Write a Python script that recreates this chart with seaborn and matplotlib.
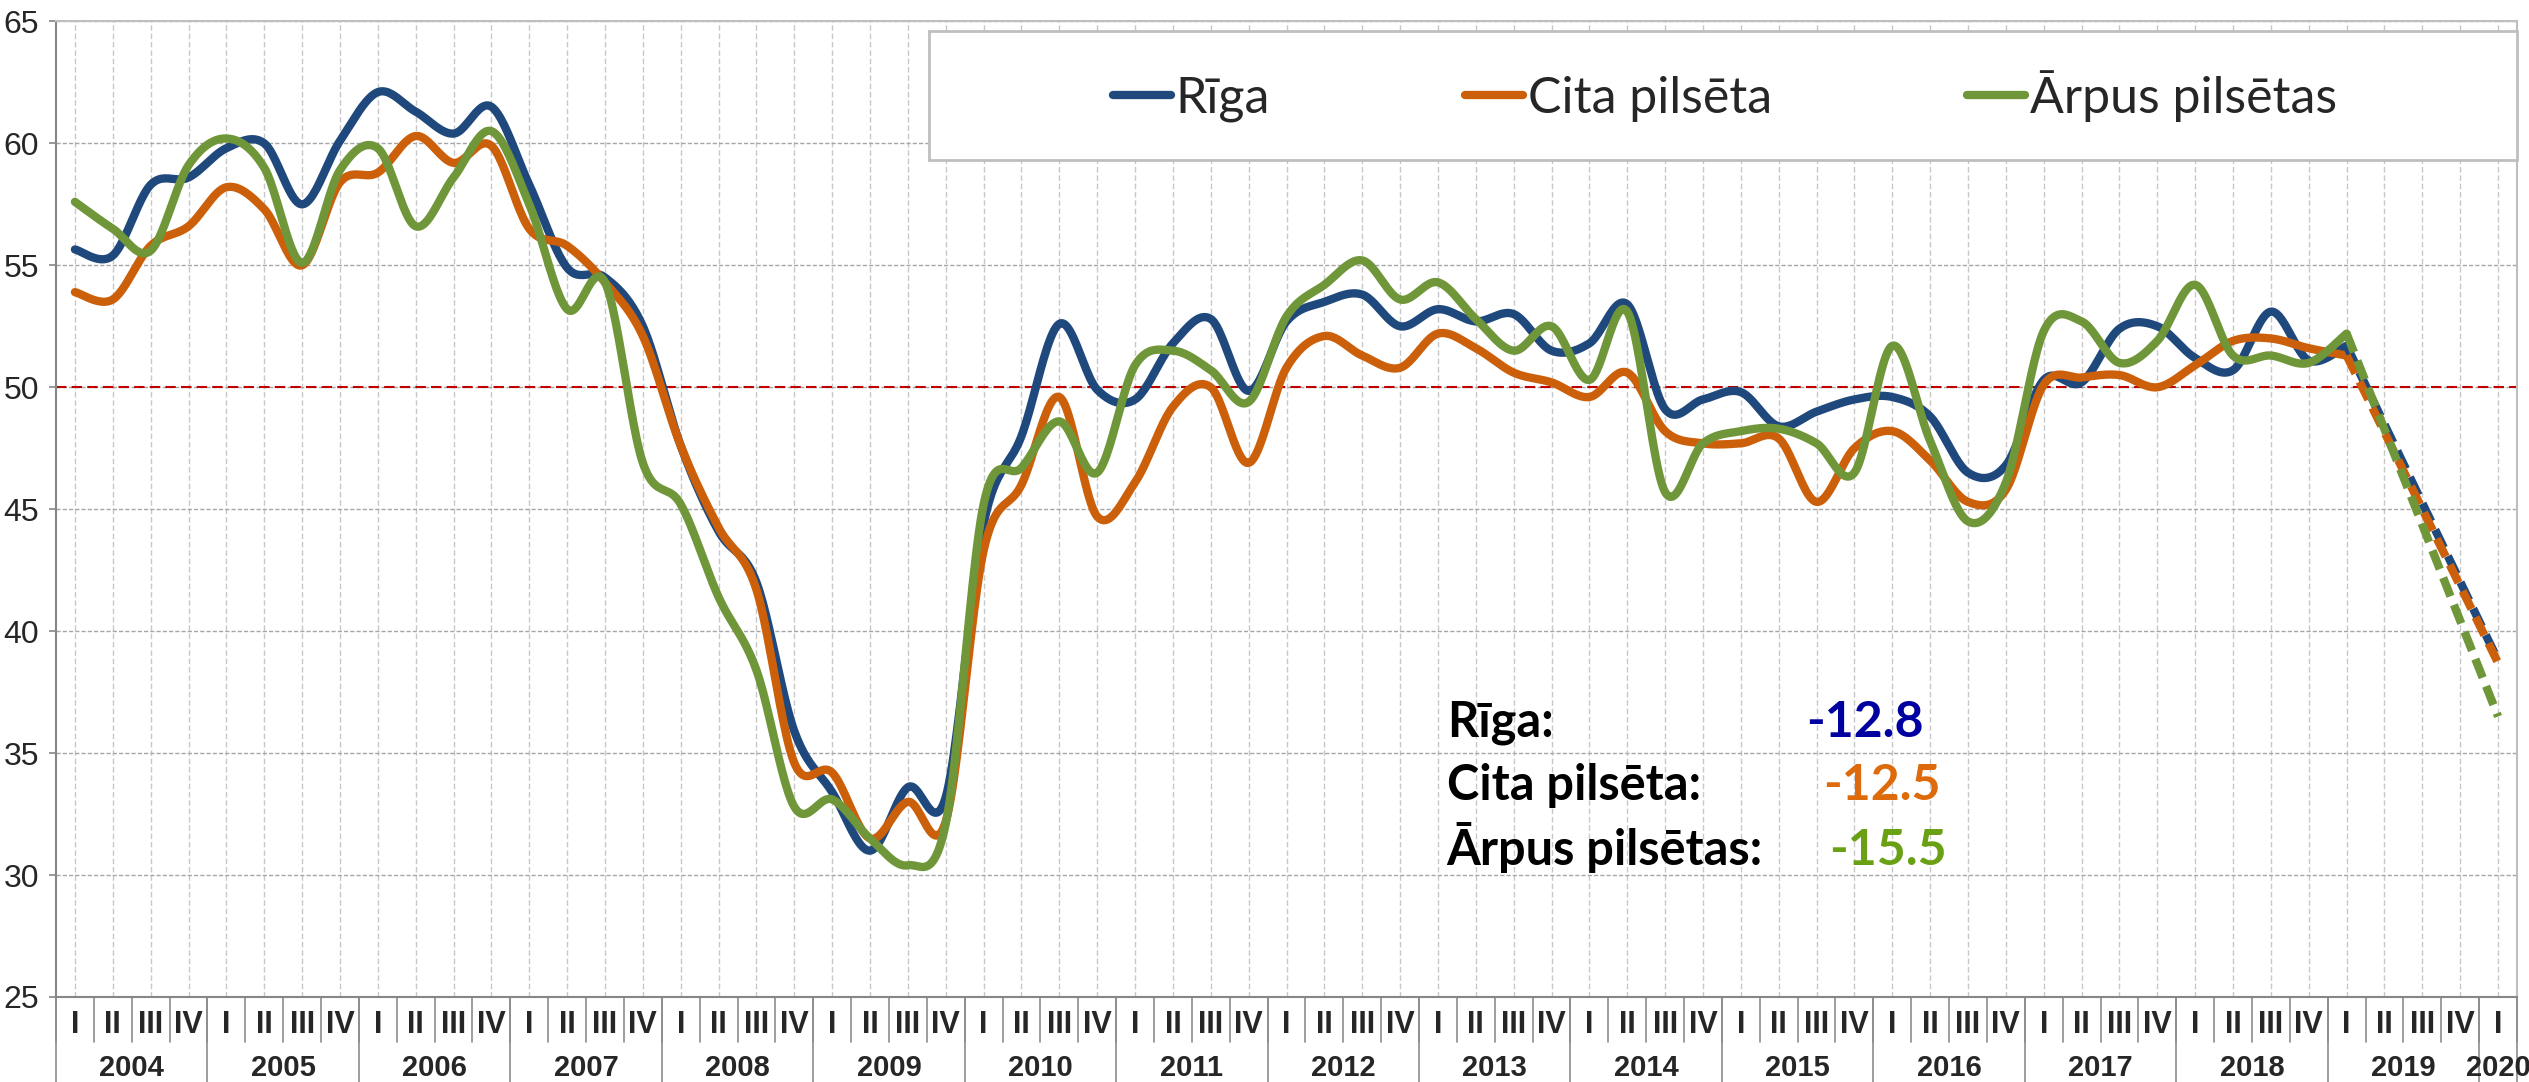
import numpy as np
import pandas as pd
import matplotlib
matplotlib.use("Agg")
import matplotlib.pyplot as plt
import seaborn as sns
from matplotlib.lines import Line2D
from matplotlib.patches import Rectangle

# Quarterly index, 2004 I .. 2019 I (solid part of the curves)
riga = [55.65, 55.4, 58.3, 58.6, 59.8, 60.0, 57.5, 60.1, 62.1, 61.3,
        60.4, 61.5, 58.3, 54.9, 54.5, 52.5, 47.6, 44.1, 42.0, 35.9,
        33.4, 31.0, 33.6, 33.2, 44.4, 48.0, 52.6, 49.9, 49.5, 51.8,
        52.8, 49.85, 52.7, 53.5, 53.8, 52.5, 53.2, 52.7, 53.0, 51.5,
        51.8, 53.4, 49.1, 49.5, 49.8, 48.4, 49.0, 49.5, 49.6, 48.8,
        46.5, 46.8, 50.3, 50.2, 52.4, 52.5, 51.2, 50.7, 53.1, 51.1,
        51.7]
cita = [53.9, 53.6, 55.8, 56.6, 58.2, 57.3, 55.0, 58.4, 58.8, 60.3,
        59.2, 59.9, 56.5, 55.8, 54.3, 52.1, 47.6, 44.25, 41.7, 34.6,
        34.2, 31.5, 33.0, 32.2, 43.3, 46.0, 49.6, 44.7, 46.1, 49.2,
        50.0, 46.9, 50.8, 52.1, 51.3, 50.8, 52.2, 51.6, 50.6, 50.2,
        49.6, 50.6, 48.2, 47.7, 47.7, 47.9, 45.3, 47.5, 48.2, 47.0,
        45.3, 45.8, 50.1, 50.4, 50.5, 50.0, 50.9, 51.9, 52.0, 51.6,
        51.3]
arpus = [57.6, 56.5, 55.6, 59.1, 60.2, 59.0, 55.1, 58.9, 59.8, 56.6,
         58.6, 60.5, 57.5, 53.2, 54.3, 46.9, 45.2, 41.4, 38.4, 32.8,
         33.1, 31.5, 30.4, 32.1, 45.2, 46.7, 48.6, 46.5, 50.9, 51.5,
         50.7, 49.4, 52.9, 54.2, 55.2, 53.6, 54.3, 52.8, 51.5, 52.5,
         50.3, 53.1, 45.7, 47.7, 48.2, 48.3, 47.7, 46.5, 51.7, 47.8,
         44.5, 46.1, 52.3, 52.7, 51.0, 51.9, 54.2, 51.3, 51.3, 51.0,
         52.2]
# 2020 I values (dashed continuation from 2019 I)
latest = [38.8, 38.7, 36.5]
changes = [-12.8, -12.5, -15.5]

series_names = ["Rīga", "Cita pilsēta", "Ārpus pilsētas"]
label_names = ["Rīga:", "Cita pilsēta:", "Ārpus pilsētas:"]
line_colors = ["#1F497D", "#CC600A", "#70963A"]
change_colors = ["#0000A0", "#DD6B0B", "#6AA014"]

years = ["2004", "2005", "2006", "2007", "2008", "2009", "2010", "2011", "2012",
         "2013", "2014", "2015", "2016", "2017", "2018", "2019", "2020"]
quarters = ["I", "II", "III", "IV"]


def smooth(xs, ys, n=24):
    """Excel-like smoothed line (Catmull-Rom style Bezier segments)."""
    pts = np.column_stack([xs, ys]).astype(float)
    padded = np.vstack([pts[0], pts, pts[-1]])
    t = np.linspace(0, 1, n, endpoint=False)[:, None]
    out = []
    for k in range(len(pts) - 1):
        p0, p1, p2, p3 = padded[k:k + 4]
        c1 = p1 + (p2 - p0) / 6
        c2 = p2 - (p3 - p1) / 6
        out.append((1 - t) ** 3 * p1 + 3 * (1 - t) ** 2 * t * c1
                   + 3 * (1 - t) * t ** 2 * c2 + t ** 3 * p2)
    out.append(pts[-1:])
    return np.vstack(out)


# category labels
cat_quarter = []
cat_year = []
for y in years[:-1]:
    for q in quarters:
        cat_quarter.append(q)
        cat_year.append(y)
cat_quarter.append("I")
cat_year.append(years[-1])
n_cat = len(cat_quarter)

sns.set_theme(style="white")
plt.rcParams["font.family"] = ["Liberation Sans Narrow", "Liberation Sans", "DejaVu Sans"]
label_font = ["Lato", "DejaVu Sans"]

W, H = 2529, 1082
fig = plt.figure(figsize=(W / 100, H / 100), dpi=100)
ax = fig.add_axes([56 / W, 1 - 997 / H, (2517 - 56) / W, (997 - 21.4) / H])

frames = []
for name, vals in zip(series_names, [riga, cita, arpus]):
    xy = smooth(np.arange(len(vals)), vals)
    frames.append(pd.DataFrame({"x": xy[:, 0], "y": xy[:, 1], "series": name}))
df = pd.concat(frames, ignore_index=True)

sns.lineplot(data=df, x="x", y="y", hue="series", palette=line_colors,
             hue_order=series_names, sort=False, estimator=None,
             linewidth=6, legend=False, ax=ax, zorder=3)

# dashed continuation to 2020 I
for vals, last, col in zip([riga, cita, arpus], latest, line_colors):
    ax.plot([len(vals) - 1, n_cat - 1], [vals[-1], last], color=col, lw=6,
            ls=(0, (2.4, 1.1)), zorder=3)

ax.axhline(50, color="#C00000", lw=1.5, ls=(0, (5, 2.5)), zorder=2)

ax.set_xlim(-0.5, n_cat - 0.5)
ax.set_ylim(25, 65)
ax.set_yticks(range(25, 66, 5))
ax.set_xticks(range(n_cat))
ax.tick_params(axis="x", length=0, labelbottom=False)
ax.tick_params(axis="y", length=5, width=1.2, color="#868686", labelsize=23,
               pad=7, left=True)
ax.set_xlabel("")
ax.set_ylabel("")
ax.yaxis.grid(True, color="#A6A6A6", lw=1.0, ls=(0, (3, 1.5)))
ax.xaxis.grid(True, color="#C8C8C8", lw=1.0, ls=(0, (4, 2)))
ax.set_axisbelow(True)
for side in ["left", "bottom"]:
    ax.spines[side].set_color("#868686")
    ax.spines[side].set_linewidth(1.5)
for side in ["top", "right"]:
    ax.spines[side].set_color("#BFBFBF")
    ax.spines[side].set_linewidth(1.5)

# two-level category axis
tr = ax.get_xaxis_transform()
q_low = -(1042 - 997) / (997 - 21.4)
y_low = -(1082 - 997) / (997 - 21.4)
for b in np.arange(-0.5, n_cat):
    ax.plot([b, b], [0, q_low], color="#8C8C8C", lw=1.2, transform=tr, clip_on=False)
for i, lab in enumerate(cat_quarter):
    ax.text(i, -0.0287, lab, transform=tr, ha="center", va="center",
            fontsize=22, fontweight="bold")
bounds = [-0.5]
for y in years:
    idx = [i for i, cy in enumerate(cat_year) if cy == y]
    ax.text(np.mean(idx), -0.0728, y, transform=tr, ha="center", va="center",
            fontsize=21, fontweight="bold")
    bounds.append(idx[-1] + 0.5)
for b in bounds:
    ax.plot([b, b], [0, y_low], color="#8C8C8C", lw=1.2, transform=tr, clip_on=False)

# change annotation
label_y = [35.67, 33.08, 30.4]
value_x = [45.73, 46.18, 46.34]
for lab, ch, col, ly, vx in zip(label_names, changes, change_colors, label_y, value_x):
    ax.text(36.23, ly, lab, fontsize=35, fontweight="bold", family=label_font,
            va="baseline", ha="left", color="black", zorder=4)
    ax.text(vx, ly, f"{ch:.1f}", fontsize=36, fontweight="bold", family=label_font,
            va="baseline", ha="left", color=col, zorder=4)

# legend with its frame
fig.add_artist(Rectangle((929 / W, 1 - 160 / H), (2517 - 929) / W, 129 / H,
                         transform=fig.transFigure, facecolor="white",
                         edgecolor="#BFBFBF", lw=2, zorder=3))
handles = [Line2D([0], [0], color=c, lw=6) for c in line_colors]
fig.legend(handles, series_names, loc="center", bbox_to_anchor=(1725 / W, 1 - 96 / H),
           ncol=3, frameon=False, prop={"family": label_font, "size": 36},
           handlelength=1.16, handletextpad=0.1, columnspacing=3.9)

fig.savefig("out.png", dpi=100, facecolor="white")
